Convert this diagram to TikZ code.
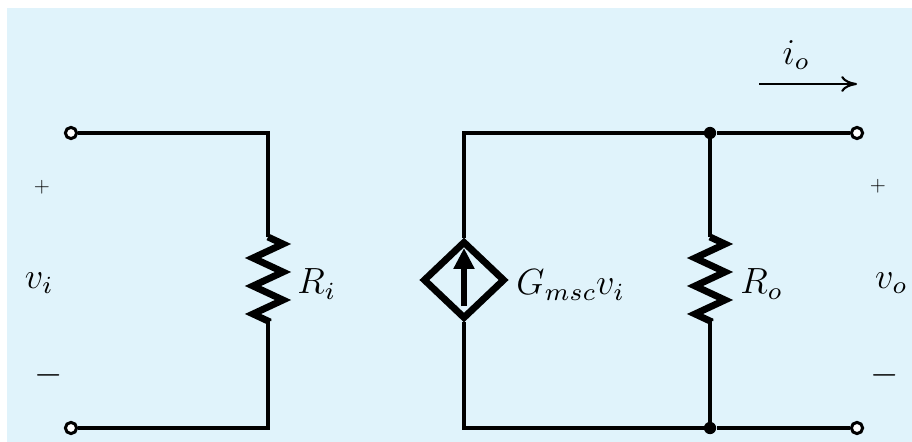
\documentclass[tikz,border=0pt]{standalone}
\usepackage{amsmath}
\usetikzlibrary{arrows.meta,positioning,decorations.pathmorphing,shapes.geometric}
\definecolor{panelblue}{HTML}{E0F3FB}
\font\subfont=cmmi7 at 14pt
\newcommand{\lowsub}[1]{_{\mbox{\subfont #1}}}
\tikzset{%
wire/.style={draw,line width=2.1pt,line join=miter},
terminal/.style={draw,fill=white,circle,line width=1.7pt,minimum size=6.4pt,inner sep=0pt},
junction/.style={fill,circle,minimum size=7pt,inner sep=0pt},
resistor/.style={draw,line width=3.9pt,line join=miter,decorate,decoration={zigzag,segment length=0.56cm,amplitude=0.30cm}},
ctrlsource/.style={diamond,draw,line width=3.9pt,minimum height=1.56cm,minimum width=1.64cm,inner sep=0pt,aspect=1},
textlabel/.style={font=\fontsize{21}{26}\selectfont,inner sep=0pt},
smalllabel/.style={font=\fontsize{12}{14}\selectfont,inner sep=0pt},
signlabel/.style={font=\fontsize{21}{26}\selectfont,inner sep=0pt}
}
\begin{document}
\begin{tikzpicture}[x=0.02cm,y=-0.02cm]
  \useasboundingbox (0,0) rectangle (912,442);
  \fill[panelblue] (7,8) rectangle (912,442);

  % corners and terminals
  \node[terminal] (intop) at (71,133) {};
  \node[terminal] (inbot) at (71,428) {};
  \coordinate (ritop) at (268,133);
  \coordinate (ribot) at (268,428);
  \coordinate (rihi) at (268,237);
  \coordinate (rilo) at (268,321);
  \coordinate (srctop) at (464,133);
  \coordinate (srcbot) at (464,428);
  \node[junction] (jtop) at (710,133) {};
  \node[junction] (jbot) at (710,428) {};
  \coordinate (rohi) at (710,237);
  \coordinate (rolo) at (710,321);
  \node[terminal] (outtop) at (857,133) {};
  \node[terminal] (outbot) at (857,428) {};
  \node[ctrlsource] (src) at (464,280) {};

  % wires
  \draw[wire] (intop) -- (ritop) -- (rihi);
  \draw[wire] (rilo) -- (ribot) -- (inbot);
  \draw[wire] (src.north) -- (srctop) -- (jtop) -- (outtop);
  \draw[wire] (src.south) -- (srcbot) -- (jbot) -- (outbot);
  \draw[wire] (jtop) -- (rohi);
  \draw[wire] (rolo) -- (jbot);
  \draw[resistor] (rihi) -- (rilo);
  \draw[resistor] (rohi) -- (rolo);

  % arrow in the source
  \coordinate (srctail) at (464,306);
  \coordinate (srctip) at (464,248);
  \draw[line width=3.2pt,-{Triangle[length=0.42cm,width=0.40cm]}] (srctail) -- (srctip);

  % labels
  \node[smalllabel] (pin) at (42,187) {$+$};
  \node[textlabel] (vin) at (39,283) {$v\lowsub{i}$};
  \node[signlabel] (min) at (49,375) {$-$};
  \node[textlabel,anchor=west] (lri) at (297,284) {$R\lowsub{i}$};
  \node[textlabel,anchor=west] (lsrc) at (516,285) {$G\lowsub{msc}v\lowsub{i}$};
  \node[textlabel,anchor=west] (lro) at (740,284) {$R\lowsub{o}$};
  \node[smalllabel] (pout) at (878,186) {$+$};
  \node[textlabel] (vout) at (891,283) {$v\lowsub{o}$};
  \node[signlabel] (mout) at (885,375) {$-$};
  \node[textlabel] (lio) at (796,55) {$i\lowsub{o}$};
  \coordinate (iotail) at (759,84);
  \coordinate (iotip) at (857,84);
  \draw[line width=1.2pt,-{To[length=9pt,width=9pt]}] (iotail) -- (iotip);
\end{tikzpicture}
\end{document}
